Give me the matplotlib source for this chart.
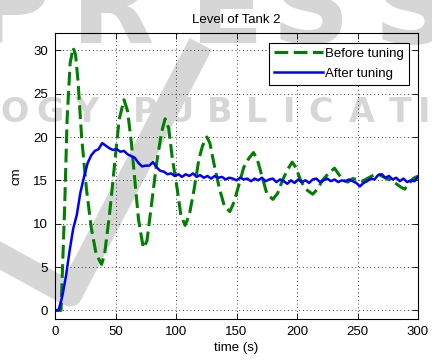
import numpy as np
import matplotlib
matplotlib.use("Agg")
import matplotlib.pyplot as plt
import matplotlib.transforms as mtransforms
from matplotlib.lines import Line2D

# level response before tuning (time s, level cm)
t_before = [0, 5, 8, 10, 12.5, 15, 17, 19, 22, 26, 30, 34, 38.5, 41, 45, 49, 53, 57,
            60, 63, 66, 69, 73, 76, 80, 84, 88, 91, 94, 97, 101, 104, 107.5, 111, 115,
            119, 122, 125.5, 128, 132, 136, 140, 144.5, 148, 152, 156, 160, 164, 167,
            171, 175, 180, 184, 188, 192, 196, 199, 203, 207, 213, 217, 221, 226, 231,
            234, 238, 242, 246, 250, 254, 258, 262, 266, 270, 274, 278, 282, 286, 289,
            292, 296, 300]
level_before = [0, 0, 12, 22, 28.5, 30.3, 29.5, 26.5, 20, 14, 9.5, 6.5, 5.3, 6.5, 11, 16.5,
                22, 24.3, 23, 19.5, 15, 10.5, 7.2, 8, 12.5, 17, 20.5, 22.1, 21, 17.5, 14,
                11, 9.8, 11, 14, 17.5, 19, 20, 19.3, 16.5, 14, 12, 11.4, 12.5, 14.5, 16.5,
                17.5, 18.2, 17.5, 15.5, 13.5, 12.8, 13.5, 15, 16.2, 17.1, 16.5, 15, 14,
                13.4, 14, 15, 15.8, 16.4, 15.8, 15, 14.8, 15.2, 15.1, 14.9, 15.2, 15.5,
                15.8, 15.5, 15.2, 15, 14.6, 14.2, 14, 14.5, 15.2, 15.5]

# level response after tuning, sampled every 3 s
t_after = np.arange(0, 301, 3)
level_after = [0, 0, 1.6, 3.9, 6.8, 9.4, 11.0, 13.6, 15.4, 17.0,
               17.9, 18.4, 18.6, 19.3, 19.0, 18.7, 18.5, 18.6, 18.3, 18.4,
               18.0, 17.8, 17.6, 17.0, 16.6, 16.7, 16.7, 17.1, 16.5, 16.1,
               16.0, 15.7, 15.8, 15.5, 15.7, 15.4, 15.7, 15.5, 15.8, 15.4,
               15.6, 15.3, 15.5, 15.2, 15.5, 15.3, 15.4, 15.1, 15.3, 15.2,
               15.0, 15.3, 15.1, 15.2, 14.9, 15.2, 15.0, 15.3, 14.9, 15.1,
               15.2, 14.8, 15.1, 14.9, 14.6, 15.0, 14.7, 15.1, 14.8, 15.0,
               14.7, 15.1, 15.2, 14.8, 15.0, 15.2, 14.9, 15.1, 14.8, 15.0,
               14.9, 15.1, 14.9, 14.7, 14.3, 14.7, 14.9, 15.2, 15.1, 15.6,
               15.7, 15.3, 15.5, 15.1, 15.3, 14.9, 15.2, 14.8, 15.0, 14.9,
               15.4]

xticks = [0, 50, 100, 150, 200, 250, 300]
yticks = [0, 5, 10, 15, 20, 25, 30]

W, H = 432, 363
plt.rcParams['font.family'] = ['Liberation Sans', 'DejaVu Sans']
fig = plt.figure(figsize=(W / 100, H / 100), dpi=100, facecolor='white')

# faint publisher stamp behind the plot (letter centres in pixels from top-left)
wm_color = '#d6d6d6'
for ch, cx in zip('PRESS', [12, 113, 227, 310, 412]):
    fig.text(cx / W, 1 - 43 / H, ch, fontsize=78, fontweight='bold', family='DejaVu Sans',
             color=wm_color, ha='center', va='baseline', zorder=-2)
for ch, cx in zip('OGY PUBLICATIO', [14, 50, 86, 0, 145, 181, 220, 257, 289, 321, 362, 400, 424, 446]):
    if ch == ' ':
        continue
    fig.text(cx / W, 1 - 122 / H, ch, fontsize=24, fontweight='bold', family='DejaVu Sans',
             color=wm_color, ha='center', va='baseline', zorder=-2)
fig.add_artist(Line2D([-10, 70, 195], [H - 250, H - 294, H - 55], lw=18,
                      color=wm_color, solid_joinstyle='round',
                      transform=mtransforms.IdentityTransform(), zorder=-2))

ax = fig.add_axes([55 / W, (H - 319) / H, 363 / W, 286 / H])
ax.set_facecolor('none')

ax.plot(t_before, level_before, color='#008000', lw=2.2, dashes=(4.5, 1.8),
        label='Before tuning')
ax.plot(t_after, level_after, color='#0000ff', lw=1.8, label='After tuning')

ax.set_xlim(0, 300)
ax.set_ylim(-1, 32)
ax.set_xticks(xticks)
ax.set_yticks(yticks)
ax.tick_params(direction='in', length=4, width=0.6, top=True, right=True,
               labelsize=9.5, pad=5)
ax.grid(True, color='black', lw=0.6, linestyle=(0, (1, 3.5)))
for s in ax.spines.values():
    s.set_linewidth(0.8)

ax.set_title('Level of Tank 2', fontsize=9.5, pad=7)
ax.set_xlabel('time (s)', fontsize=9.5, labelpad=3)
ax.set_ylabel('cm', fontsize=9.5, labelpad=8)

leg = ax.legend(loc='upper right', bbox_to_anchor=(0.975, 0.965), borderaxespad=0,
                fontsize=9.5, handlelength=3.7, handletextpad=0.2, labelspacing=0.6,
                fancybox=False, framealpha=1, edgecolor='black', borderpad=0.35)
leg.get_frame().set_linewidth(0.8)

fig.savefig('out.png', dpi=100, facecolor='white')
